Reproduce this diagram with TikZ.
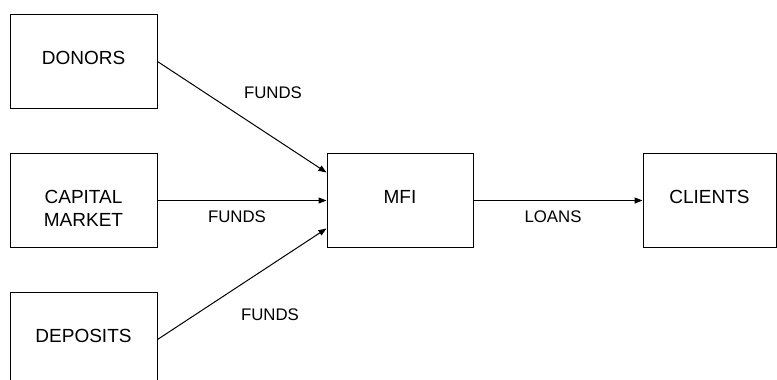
\documentclass[tikz,border=0pt]{standalone}
\usepackage{fontspec}
\setmainfont{Liberation Sans}
\usetikzlibrary{arrows.meta}
\tikzstyle{block} = [rectangle, minimum width=147pt, minimum height=94pt, text centered, text depth=7pt, draw=black, line width=1pt, font=\fontsize{19pt}{23pt}\selectfont]
\tikzstyle{lbl} = [font=\fontsize{16.8pt}{20pt}\selectfont]
\tikzstyle{arrow} = [line width=1pt,-{Triangle[length=8pt,width=6pt]}]

\begin{document}
\begin{tikzpicture}[node distance=139pt]
	\useasboundingbox (0,0) rectangle (777pt,-380pt);
	
	\node (Donors) [block] at (83.5pt,-61.5pt) {DONORS};
	\node (Capital) [block, below of=Donors, text width=120pt] {CAPITAL\\MARKET};
	\node (Deposits) [block, below of=Capital] {DEPOSITS};
	\node (MFI) [block, right of=Capital, xshift=177.5pt, minimum width=146pt] {MFI};
	\node (Clients) [block, right of=MFI, xshift=170.5pt, minimum width=133pt] {CLIENTS};
	
	\draw [arrow] (Donors.east) -- node[lbl, xshift=31pt, yshift=24pt] (fundsTop) {FUNDS} ([yshift=28pt]MFI.west);
	\draw [arrow] (Capital.east) -- node[lbl, xshift=-5pt, yshift=-16.5pt] (fundsMid) {FUNDS} (MFI.west);
	\draw [arrow] (Deposits.east) -- node[lbl, xshift=28pt, yshift=-31pt] (fundsLow) {FUNDS} ([yshift=-28pt]MFI.west);
	\draw [arrow] (MFI) -- node[lbl, xshift=-5pt, yshift=-16.5pt] (loans) {LOANS} (Clients);
\end{tikzpicture}
\end{document}
